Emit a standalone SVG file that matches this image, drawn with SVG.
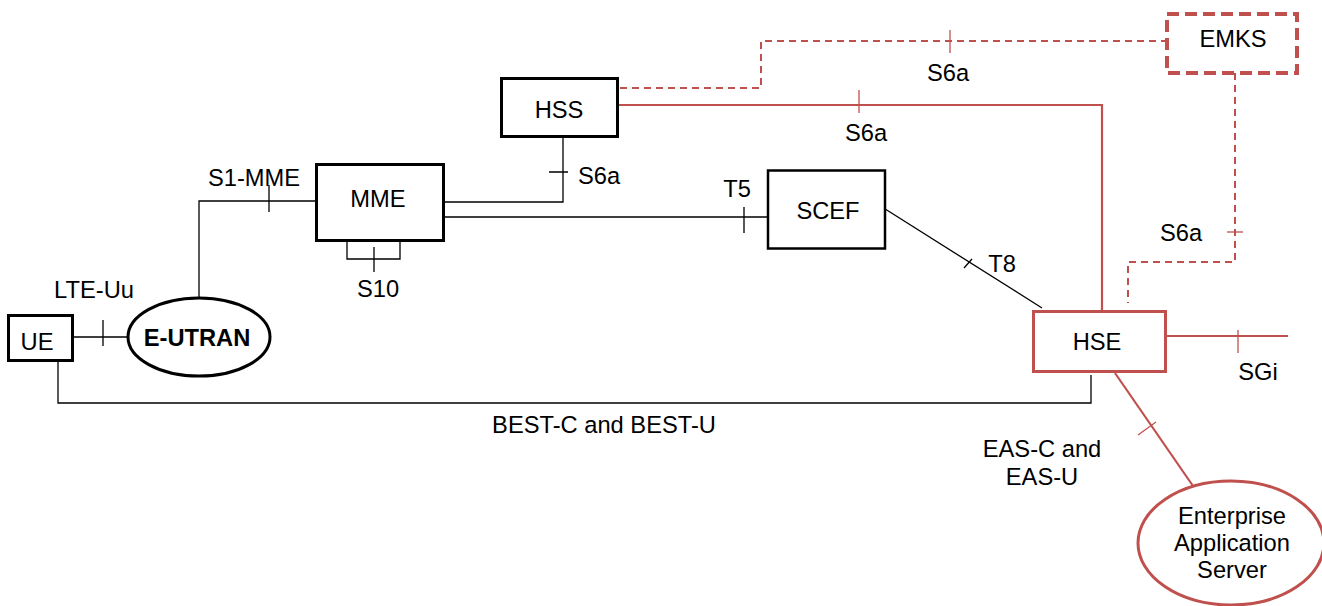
<svg xmlns="http://www.w3.org/2000/svg" width="1322" height="606" viewBox="0 0 1322 606">
<style>
text{font-family:"Liberation Sans",Arial,sans-serif;font-size:23.7px;fill:#000;text-anchor:middle}
.b{font-weight:bold}
.box{fill:#fff;stroke:#000;stroke-width:3}
.ln{fill:none;stroke:#000;stroke-width:1.3}
.rl{fill:none;stroke:#C0504D;stroke-width:2.2}
.rd{fill:none;stroke:#C0504D;stroke-width:2;stroke-dasharray:7 5}
.rt{fill:none;stroke:#C0504D;stroke-width:1.3}
</style>
<rect width="1322" height="606" fill="#fff"/>
<g id="connectors">
  <path class="ln" d="M73 337H128M103 320V346"/>
  <path class="ln" d="M199 297V201H320M269 185V212"/>
  <path class="ln" d="M347 235V259H400V235M374 247V272"/>
  <path class="ln" d="M435 202H563V137M549 172H568"/>
  <path class="ln" d="M445 217H767M744 207V233"/>
  <path class="ln" d="M882 207L1042 308M964 268L972 259"/>
  <path class="ln" d="M58 360V403H1091V375"/>
  <path class="rl" d="M618 105H1102V310"/>
  <path class="rt" d="M859 90V113"/>
  <path class="rd" d="M620 88H761V41H1166"/>
  <path class="rt" d="M950 30V53"/>
  <path class="rd" d="M1235 73V262H1128V303"/>
  <path class="rt" d="M1227 232H1243"/>
  <path class="rl" d="M1166 336H1288"/>
  <path class="rt" d="M1238 330V353"/>
  <path class="rl" d="M1115 373L1193 486"/>
  <path class="rt" d="M1138 435L1156 422"/>
</g>
<g id="labels">
  <text x="94" y="298">LTE-Uu</text>
  <text x="254" y="186">S1-MME</text>
  <text x="378" y="297">S10</text>
  <text x="578" y="184" style="text-anchor:start">S6a</text>
  <text x="737" y="197">T5</text>
  <text x="1002" y="272">T8</text>
  <text x="866" y="141">S6a</text>
  <text x="948" y="81">S6a</text>
  <text x="1181" y="241">S6a</text>
  <text x="1258" y="380">SGi</text>
  <text x="604" y="433">BEST-C and BEST-U</text>
  <text x="1042" y="457">EAS-C and</text>
  <text x="1042" y="485">EAS-U</text>
</g>
<g id="UE">
  <rect class="box" x="8.5" y="315.5" width="64" height="45"/>
  <text x="37" y="350">UE</text>
</g>
<g id="E-UTRAN">
  <ellipse cx="199" cy="337" rx="71" ry="39" fill="#fff" stroke="#000" stroke-width="3"/>
  <text class="b" x="197" y="346">E-UTRAN</text>
</g>
<g id="MME">
  <rect class="box" x="316.5" y="164.5" width="127" height="76"/>
  <text x="378" y="207">MME</text>
</g>
<g id="HSS">
  <rect class="box" x="501.5" y="78.5" width="116" height="58"/>
  <text x="559" y="118">HSS</text>
</g>
<g id="SCEF">
  <rect class="box" x="768" y="170.5" width="117" height="78" style="stroke-width:2.5"/>
  <text x="828" y="219">SCEF</text>
</g>
<g id="EMKS">
  <rect x="1167" y="14" width="130" height="59" fill="#fff" stroke="#C0504D" stroke-width="4" stroke-dasharray="12 6"/>
  <text x="1233" y="47">EMKS</text>
</g>
<g id="HSE">
  <rect x="1033.5" y="311.5" width="132" height="60" fill="#fff" stroke="#C0504D" stroke-width="3"/>
  <text x="1097" y="350">HSE</text>
</g>
<g id="EAS">
  <ellipse cx="1231" cy="543" rx="93" ry="62" fill="#fff" stroke="#C0504D" stroke-width="3"/>
  <text x="1232" y="524">Enterprise</text>
  <text x="1232" y="551">Application</text>
  <text x="1232" y="578">Server</text>
</g>
</svg>
